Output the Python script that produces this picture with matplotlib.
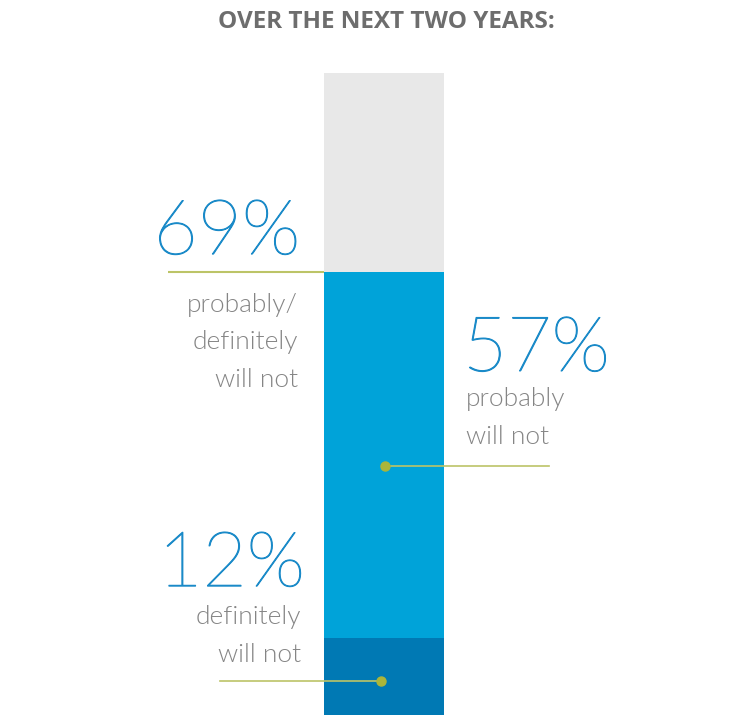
import matplotlib
matplotlib.use("Agg")
import matplotlib.pyplot as plt
import matplotlib.patheffects as pe

# stacked share of respondents (bottom to top)
segments = ["definitely will not", "probably will not", "rest"]
values = [12, 57, 31]
colors = ["#0079b4", "#00a3d9", "#e8e8e8"]

title = "OVER THE NEXT TWO YEARS:"
total_label = "69%"
total_text = "probably/\ndefinitely\nwill not"
prob_label = "57%"
prob_text = "probably\nwill not"
def_label = "12%"
def_text = "definitely\nwill not"

W, H = 752, 715
fig = plt.figure(figsize=(W / 100, H / 100), dpi=100)
bar_top = 73
ax = fig.add_axes([0, 0, 1, (H - bar_top) / H])
ax.set_xlim(0, W)
ax.set_ylim(0, 100)
ax.axis("off")

bx, bw = 384, 120
bottom = 0
for v, c in zip(values, colors):
    ax.bar(bx, v, width=bw, bottom=bottom, color=c, linewidth=0)
    bottom += v

blue = "#1a8ac8"
grey = "#858585"
line_c = "#bcc467"
dot_c = "#aab53a"
# thin digits: hairline weight thickened a little with a stroke
big = dict(fontsize=55, color=blue, family="Lato", fontweight=100,
           path_effects=[pe.withStroke(linewidth=0.8, foreground=blue)])
small = dict(fontsize=19, color=grey, family="Lato", fontweight=300, linespacing=1.72)

# 69% total, line at the boundary
top69 = values[0] + values[1]
ax.plot([168, bx - bw / 2], [top69, top69], color=line_c, lw=1.5, solid_capstyle="butt")
ax.text(300, top69 + 2.8, total_label, ha="right", va="baseline", **big)
ax.text(298, top69 - 3.2, total_text, ha="right", va="top", **small)

# 57% probably
y57 = values[0] + values[1] * 0.47
ax.plot([385, 549], [y57, y57], color=line_c, lw=1.2)
ax.plot(385, y57, "o", color=dot_c, ms=6.5)
ax.text(463, y57 + 14.8, prob_label, ha="left", va="baseline", **big)
ax.text(466, y57 + 12.3, prob_text, ha="left", va="top", **small)

# 12% definitely
y12 = values[0] * 0.44
ax.plot([220, 381], [y12, y12], color=line_c, lw=1.2)
ax.plot(381, y12, "o", color=dot_c, ms=6.5)
ax.text(305, y12 + 14.8, def_label, ha="right", va="baseline", **big)
ax.text(301, y12 + 11.8, def_text, ha="right", va="top", **small)

fig.text(386 / W, 1 - 22 / H, title, ha="center", va="center", fontsize=17.5,
         color="#6d6d6d", family="Open Sans", fontweight="bold")

fig.savefig("out.png", dpi=100)
